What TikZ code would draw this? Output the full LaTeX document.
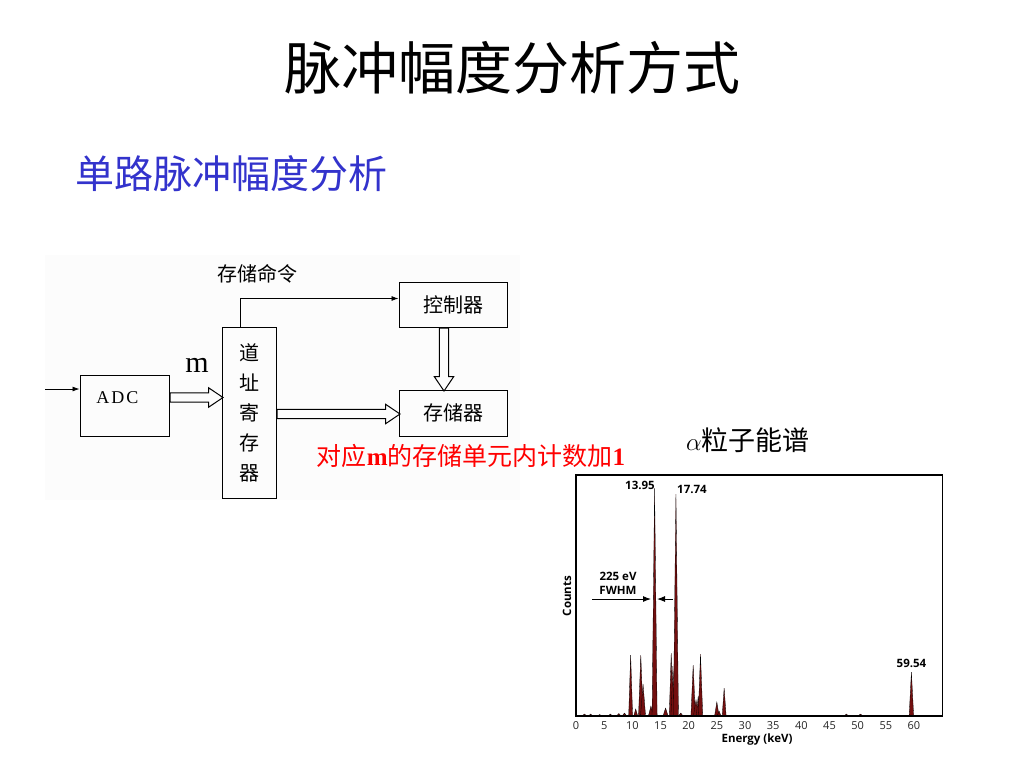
\documentclass[tikz,border=0pt]{standalone}
\usepackage{fontspec}
\setmainfont{Liberation Serif}
\newfontfamily\cjk{Noto Sans CJK SC}
\newfontfamily\plotfont{Open Sans}
\usetikzlibrary{shapes.arrows, calc, arrows.meta}
\definecolor{titleblue}{RGB}{51,51,204}
\definecolor{peakred}{RGB}{115,15,15}
\tikzset{
	box/.style={draw, line width=1pt, font=\cjk\fontsize{20}{30}\selectfont},
	fat/.style={single arrow, draw, line width=1pt, inner sep=4.2pt, single arrow head extend=5pt, single arrow tip angle=68, anchor=tail},
	thinarrow/.style={line width=0.8pt, -{Latex[length=7pt, width=5pt]}},
	peak/.style={fill=peakred, draw=black, line width=0.3pt},
	lbl/.style={font=\plotfont\bfseries\fontsize{11.5}{13}\selectfont, inner sep=0pt},
	tick/.style={font=\plotfont\fontsize{11}{12}\selectfont, text=black!85, inner sep=0pt}
}

\begin{document}
\begin{tikzpicture}[x=1pt, y=-1pt]
				\useasboundingbox (0,0) rectangle (1024,768);
				\fill[black!1] (45,255) rectangle (520,500);
				
				\node[font=\cjk\fontsize{57}{60}\selectfont] (title) at (512,68) {脉冲幅度分析方式};
				\node[anchor=west, text=titleblue, font=\cjk\fontsize{39}{42}\selectfont, inner sep=0pt] (sub) at (75,174) {单路脉冲幅度分析};
				
				\node[box, minimum width=89, minimum height=61] (adc) at (124.5,405.5) {};
				\node[font=\fontsize{18}{20}\selectfont] (adctext) at ($(adc)+(-7,-8)$) {A\kern2pt D\kern2pt C};
				\node[box, minimum width=54, minimum height=171, align=center] (reg) at (249,412.5) {道\\址\\寄\\存\\器};
				\node[box, minimum width=108, minimum height=45] (ctrl) at (453,304.5) {控制器\hspace{16pt}};
				\node[box, minimum width=108, minimum height=46] (mem) at (453,413) {存储器\hspace{16pt}};
				
				\coordinate (in) at (45,389);
				\draw [thinarrow](in) -- (in -| adc.west);
				\draw [thinarrow]($(reg.north)+(-9,0)$) |- ($(ctrl.west)+(0,-6)$);
				\node[font=\cjk\fontsize{20}{24}\selectfont] (cmd) at (257,274) {存储命令};
				\node[font=\fontsize{30}{32}\selectfont] (m) at (197,365) {m};
				
				\node[fat, minimum height=53] (adcout) at ($(adc.east)+(0,-8)$) {};
				\node[fat, minimum height=123] (regout) at ($(reg.east)+(0,1.5)$) {};
				\node[fat, minimum height=63, rotate=-90] (ctrlout) at ($(ctrl.south)+(-9,0)$) {};
				
				\node[text=red, font=\cjk\fontsize{25}{28}\selectfont, inner sep=0pt] (note) at (471,456) {对应{\rmfamily\bfseries m}的存储单元内计数加{\rmfamily\bfseries 1}};
				\node[font=\cjk\fontsize{27}{30}\selectfont, inner sep=0pt] (alpha) at (748,440) {$\alpha$粒子能谱};
				
				\begin{scope}[shift={(576,716)}, x=5.633pt, y=1pt]
					\foreach \e/\h/\w in {1.5/2/0.4, 2.6/2/0.4, 4.2/1.5/0.4, 6.1/2/0.4, 7.6/2.5/0.4, 8.6/3/0.4,
						9.7/61/0.35, 10.6/7/0.35, 11.5/61/0.4, 11.9/32/0.45, 13.3/10/0.45, 13.95/228/0.45,
						15.9/8/0.45, 16.9/63/0.35, 17.2/50/0.35, 17.74/222/0.45, 18.6/3/0.4, 20.8/51/0.4,
						21.3/16/0.45, 21.7/20/0.35, 22.1/62/0.4, 25.0/14/0.4, 25.4/5/0.35, 26.3/28/0.35,
						48/2/0.4, 50.5/2/0.4, 59.54/44/0.4}
						\filldraw[peak] ({\e-\w},0) -- (\e,\h) -- ({\e+\w},0) -- cycle;
					\draw[line width=1.3pt] (0,0) rectangle (65.1,241);
					\foreach \t in {0,5,...,60}
						\node[tick] at (\t,-9.5) {\t};
				\end{scope}
				
				\node[lbl] (p1) at (640,485) {13.95};
				\node[lbl] (p2) at (692,489) {17.74};
				\node[lbl] (p3) at (911.5,663) {59.54};
				\node[lbl] (fw1) at (618,576) {225 eV};
				\node[lbl] (fw2) at (618,590) {FWHM};
				\node[lbl] (xlab) at (757,740) {Energy (keV)};
				\node[lbl, rotate=90] (ylab) at (567,596) {Counts};
				
				\coordinate (fa) at (592,599);
				\coordinate (fb) at (651,599);
				\coordinate (fc) at (673,599);
				\coordinate (fd) at (657,599);
				\draw [line width=1pt, -{Latex[length=8pt, width=6pt]}](fa) -- (fb);
				\draw [line width=1pt, -{Latex[length=8pt, width=6pt]}](fc) -- (fd);
			\end{tikzpicture}
\end{document}
